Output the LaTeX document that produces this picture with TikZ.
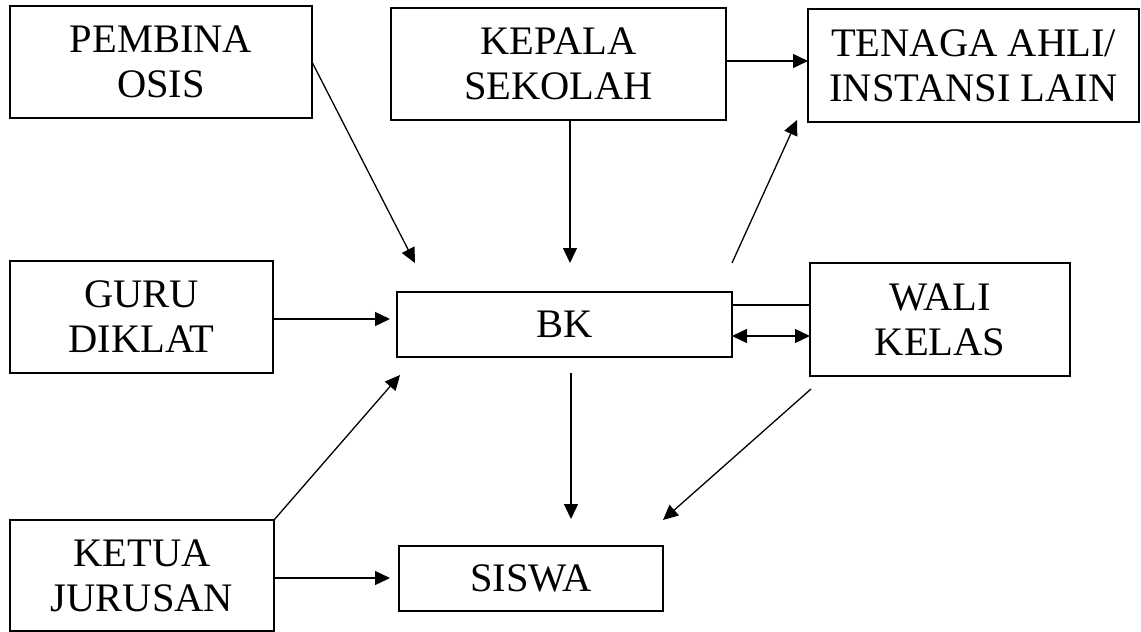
\documentclass[tikz,border=0pt]{standalone}
\usepackage{fontspec}
\setmainfont{Liberation Serif}
\usetikzlibrary{arrows.meta}
\begin{document}
\begin{tikzpicture}[x=1pt,y=-1pt,
  box/.style={draw,line width=1.4pt,inner sep=0pt,outer sep=0pt,align=center,
    font=\fontsize{40.5}{45}\selectfont},
  conn/.style={line width=1.3pt},
  arr/.style={conn,-{Triangle[length=15pt,width=14pt]}},
  dbl/.style={conn,{Triangle[length=15pt,width=14pt]}-{Triangle[length=15pt,width=14pt]}}]
\useasboundingbox (0,0) rectangle (1141,632);
\node[box,minimum width=302pt,minimum height=112pt] (pembina) at (161,62) {PEMBINA\\OSIS};
\node[box,minimum width=335pt,minimum height=112pt] (kepala) at (558.5,64) {KEPALA\\SEKOLAH};
\node[box,minimum width=331pt,minimum height=113pt] (tenaga) at (973.5,65.5) {TENAGA AHLI/\\INSTANSI LAIN};
\node[box,minimum width=263pt,minimum height=112pt] (guru) at (141.5,317) {GURU\\DIKLAT};
\node[box,minimum width=335pt,minimum height=65pt] (bk) at (564.5,324.5) {BK};
\node[box,minimum width=260pt,minimum height=113pt] (wali) at (940,319.5) {WALI\\KELAS};
\node[box,minimum width=264pt,minimum height=111pt] (ketua) at (142,575.5) {KETUA\\JURUSAN};
\node[box,minimum width=264pt,minimum height=65pt] (siswa) at (531,578.5) {SISWA};
% named free ends
\coordinate (tipP) at (415,263);
\coordinate (tipK) at (570,263);
\coordinate (startBKT) at (732,263);
\coordinate (tipT) at (797,120);
\coordinate (tipG) at (390,319);
\coordinate (tipKB) at (400,375);
\coordinate (startBS) at (571,373);
\coordinate (tipBS) at (571,519);
\coordinate (startW) at (811,389);
\coordinate (tipW) at (663,520);
\coordinate (tipKS) at (390,578);
% connectors
\draw[arr] (pembina.east) -- (tipP);
\draw[arr] (kepala.south -| tipK) -- (tipK);
\draw[arr] (kepala.east |- 0,61) -- (tenaga.west |- 0,61);
\draw[arr] (startBKT) -- (tipT);
\draw[arr] (guru.east |- tipG) -- (tipG);
\draw[conn] (bk.east |- 0,305) -- (wali.west |- 0,305);
\draw[dbl] (bk.east |- 0,336) -- (wali.west |- 0,336);
\draw[arr] (ketua.north east) -- (tipKB);
\draw[arr] (startBS) -- (tipBS);
\draw[arr] (startW) -- (tipW);
\draw[arr] (ketua.east |- tipKS) -- (tipKS);
\end{tikzpicture}
\end{document}
